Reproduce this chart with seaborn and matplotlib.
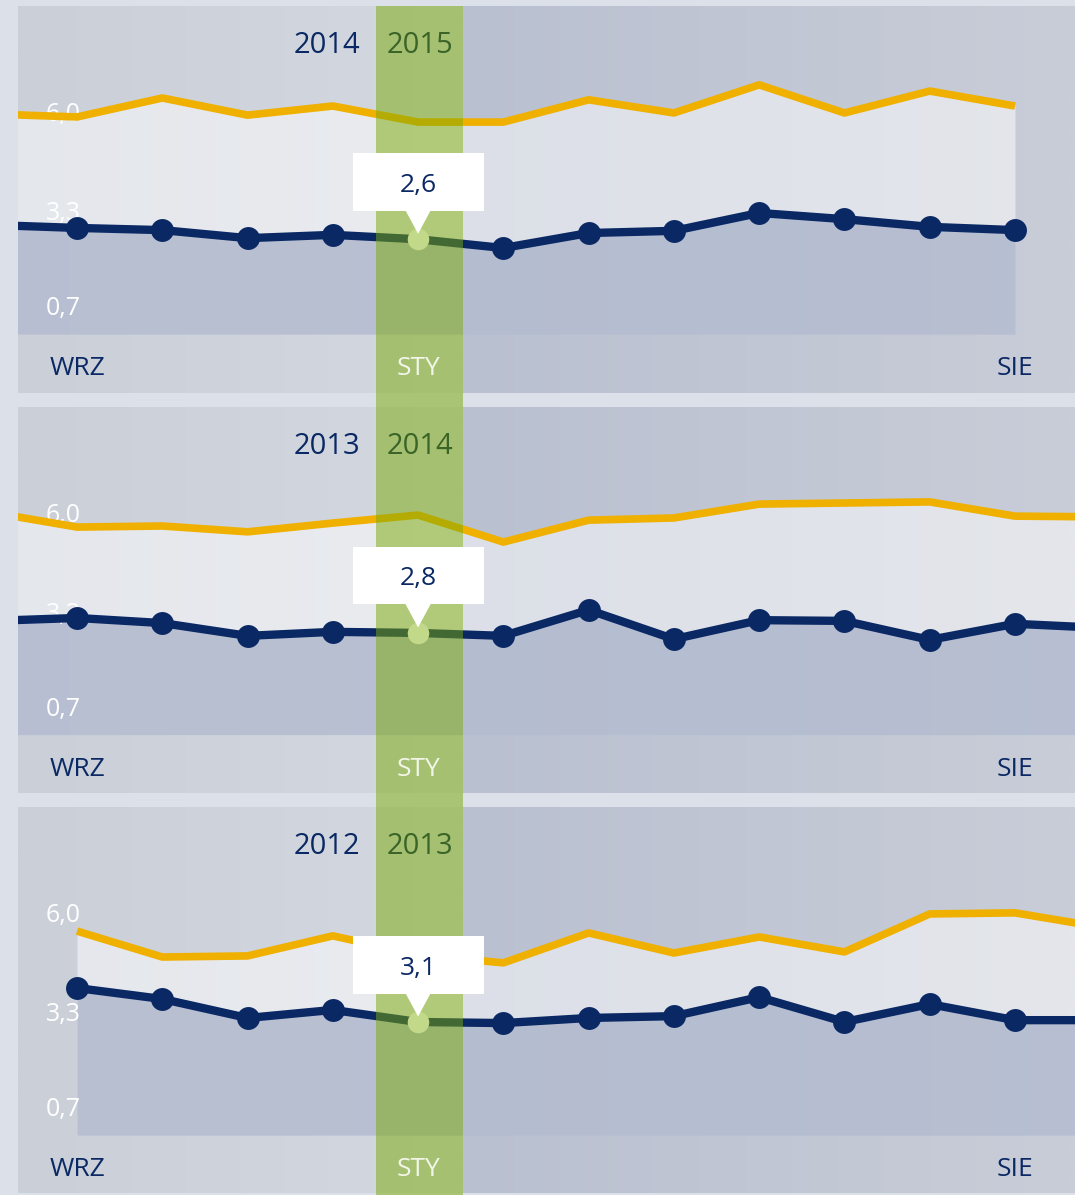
import numpy as np
import pandas as pd
import matplotlib.pyplot as plt
from matplotlib.patches import Rectangle, Polygon
from matplotlib.colors import to_rgb
import seaborn as sns

# month index: 0 = WRZ ... 11 = SIE, -1 / 12 = neighbour months outside the window
month_labels = ["WRZ", "STY", "SIE"]
month_pos = [0, 4, 11]
year_prev = ["2014", "2013", "2012"]
year_cur = ["2015", "2014", "2013"]
callout_val = [2.6, 2.8, 3.1]
callout_txt = ["2,6", "2,8", "3,1"]
scale_vals = [6.0, 3.3, 0.7]
scale_txt = ["6,0", "3,3", "0,7"]

x_p1 = list(range(-1, 12))
navy_p1 = [2.99, 2.91, 2.85, 2.63, 2.72, 2.60, 2.36, 2.77, 2.83, 3.32, 3.15, 2.94, 2.85]
yell_p1 = [6.03, 5.95, 6.47, 6.00, 6.25, 5.81, 5.81, 6.42, 6.06, 6.83, 6.06, 6.66, 6.25]

x_p2 = list(range(-1, 13))
navy_p2 = [3.13, 3.21, 3.07, 2.72, 2.83, 2.80, 2.72, 3.43, 2.63, 3.15, 3.13, 2.61, 3.05, 2.94]
yell_p2 = [6.10, 5.70, 5.73, 5.57, 5.81, 6.03, 5.29, 5.89, 5.95, 6.33, 6.36, 6.39, 6.00, 5.98]

x_p3 = list(range(0, 13))
navy_p3 = [4.03, 3.73, 3.21, 3.43, 3.10, 3.07, 3.21, 3.26, 3.78, 3.10, 3.59, 3.15, 3.15]
yell_p3 = [5.59, 4.88, 4.91, 5.46, 4.94, 4.72, 5.54, 4.99, 5.43, 5.02, 6.06, 6.09, 5.70]

series = [(x_p1, navy_p1, yell_p1), (x_p2, navy_p2, yell_p2), (x_p3, navy_p3, yell_p3)]

# colours
NAVY = "#0a2864"
YELLOW = "#f0b000"
GREEN = "#7aaa05"
OUTER = "#dce0e8"

# layout (pixels of the 1075x1195 picture)
W, H = 1075, 1195
panel_px = [(6, 393, 407), (407, 793, 807), (807, 1193, 1195)]  # top, panel bottom, axes bottom
PX_UNIT = 36.5
TOP_VAL = 8.99
XMIN, XMAX = -0.692, 11.704
BAND = (3.51, 4.53)
HIGHLIGHT = 4  # STY

sns.set_style("white")
plt.rcParams['font.family'] = ['Open Sans', 'DejaVu Sans']

fig = plt.figure(figsize=(W / 100, H / 100), dpi=100, facecolor=OUTER)


def hgrad(ax, x0, x1, y0, y1, c0, c1):
    c = np.linspace(to_rgb(c0), to_rgb(c1), 64)[None, :, :]
    ax.imshow(c, extent=(x0, x1, y0, y1), aspect="auto",
              interpolation="bilinear", zorder=0)


for k, (xs, navy, yell) in enumerate(series):
    top, pbot, abot = panel_px[k]
    ax = fig.add_axes([18 / W, 1 - abot / H, (W - 18) / W, (abot - top) / H])
    ax.patch.set_alpha(0)
    ymin = TOP_VAL - (abot - top) / PX_UNIT
    pan_bottom = TOP_VAL - (pbot - top) / PX_UNIT

    # panel background: grey left part, blue-grey right part
    hgrad(ax, XMIN, BAND[1], pan_bottom, TOP_VAL, "#cacfd8", "#d4d8e0")
    hgrad(ax, BAND[1], XMAX, pan_bottom, TOP_VAL, "#b9c0d0", "#c9cdd8")

    df = pd.DataFrame({"m": xs, "navy": navy, "yell": yell})

    ax.fill_between(df["m"], 0, df["navy"], color="#b4bcd0", alpha=0.85, lw=0, zorder=1)
    ax.fill_between(df["m"], df["navy"], df["yell"], color="white", alpha=0.5, lw=0, zorder=1)

    for v, t in zip(scale_vals, scale_txt):
        ax.text(-0.37, v - 0.17, t, color="white", fontsize=18, ha="left",
                va="baseline", zorder=2)

    sns.lineplot(data=df, x="m", y="yell", ax=ax, color=YELLOW, lw=5.5,
                 solid_capstyle="butt", zorder=3)
    sns.lineplot(data=df, x="m", y="navy", ax=ax, color=NAVY, lw=6,
                 solid_capstyle="butt", zorder=4)
    pts = df[df["m"].between(0, 11) & (df["m"] != HIGHLIGHT)]
    sns.scatterplot(data=pts, x="m", y="navy", ax=ax, color=NAVY, s=16.5 ** 2,
                    linewidth=0, zorder=4)

    # highlighted month band
    ax.axvspan(BAND[0], BAND[1], color=GREEN, alpha=0.5, lw=0, zorder=5)

    # highlighted point + callout
    cv = callout_val[k]
    ax.plot([HIGHLIGHT], [cv], "o", color="#c3d98a", markersize=15.5,
            markeredgewidth=0, zorder=7)
    ax.add_patch(Rectangle((HIGHLIGHT - 0.768, cv + 0.78), 1.536, 1.58,
                           facecolor="white", lw=0, zorder=8))
    ax.add_patch(Polygon([(HIGHLIGHT - 0.15, cv + 0.8), (HIGHLIGHT + 0.15, cv + 0.8),
                          (HIGHLIGHT, cv + 0.15)],
                         closed=True, facecolor="white", lw=0, zorder=8))
    ax.text(HIGHLIGHT, cv + 1.3, callout_txt[k], color=NAVY, fontsize=19,
            ha="center", va="baseline", zorder=9)

    # year labels
    ax.text(3.32, 7.7, year_prev[k], color=NAVY, fontsize=21,
            ha="right", va="baseline", zorder=6)
    ax.text(4.02, 7.7, year_cur[k], color="#3a6428", fontsize=21,
            ha="center", va="baseline", zorder=6)

    # month labels
    for m, lab in zip(month_pos, month_labels):
        col = "#f2f6e8" if lab == "STY" else NAVY
        ax.text(m, -1.12, lab, color=col, fontsize=19, ha="center",
                va="baseline", zorder=6)

    ax.set_xlim(XMIN, XMAX)
    ax.set_ylim(ymin, TOP_VAL)
    ax.axis("off")

fig.savefig("out.png", dpi=100, facecolor=OUTER)
